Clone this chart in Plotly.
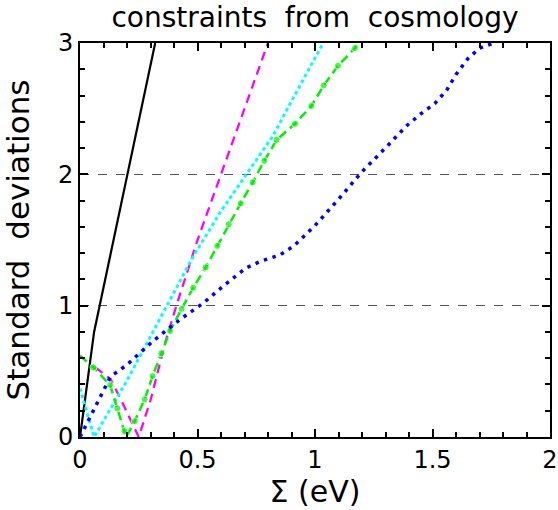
import plotly.graph_objects as go

# ---- data ----
black_x = [0.0, 0.06, 0.32]
black_y = [0.0, 0.80, 3.00]

magenta_x = [0.065, 0.13, 0.17, 0.25, 0.30, 0.366, 0.41, 0.50, 0.60, 0.70, 0.80]
magenta_y = [0.53, 0.44, 0.30, 0.00, 0.28, 0.74, 1.00, 1.50, 2.00, 2.50, 3.00]

cyan_x = [0.0, 0.06, 0.20, 0.37, 0.48, 0.60, 0.71, 0.82, 0.94, 1.035]
cyan_y = [0.37, 0.00, 0.43, 1.00, 1.37, 1.72, 2.00, 2.29, 2.69, 3.00]

green_x = [0.0, 0.057, 0.128, 0.159, 0.189, 0.196, 0.233, 0.275, 0.309, 0.346,
           0.383, 0.432, 0.482, 0.535, 0.584, 0.633, 0.684, 0.735, 0.784, 0.837,
           0.915, 0.984, 1.037, 1.098, 1.170, 1.185]
green_y = [0.62, 0.53, 0.396, 0.218, 0.045, 0.0, 0.121, 0.286, 0.464, 0.637,
           0.807, 0.975, 1.137, 1.292, 1.455, 1.620, 1.780, 1.940, 2.103, 2.263,
           2.385, 2.520, 2.677, 2.827, 2.962, 3.0]
green_marked = [0, 1, 1, 1, 1, 0, 1, 1, 1, 1,
                1, 1, 1, 1, 1, 1, 1, 1, 1, 1,
                1, 1, 1, 1, 1, 0]

blue_x = [0.0, 0.13, 0.20, 0.31, 0.43, 0.525, 0.61, 0.705, 0.77, 0.85, 0.91,
          1.00, 1.10, 1.20, 1.31, 1.39, 1.45, 1.51, 1.56, 1.60, 1.65, 1.70, 1.76]
blue_y = [0.0, 0.46, 0.55, 0.73, 0.90, 1.02, 1.15, 1.285, 1.34, 1.385, 1.455,
          1.61, 1.81, 2.02, 2.22, 2.37, 2.46, 2.54, 2.64, 2.76, 2.88, 2.96, 3.00]

x_range = [0, 2]
y_range = [0, 3]
x_major_step, x_minor_step = 0.5, 0.1   # labels 0, 0.5, 1, 1.5, 2
y_major_step, y_minor_step = 1, 0.2     # labels 0, 1, 2, 3

title_text = "constraints\u00a0 from\u00a0 cosmology"
x_title = "\u03a3 (eV)"
y_title = "Standard\u00a0 deviations"

FONT = "DejaVu Sans"

fig = go.Figure()
fig.add_trace(go.Scatter(x=black_x, y=black_y, mode="lines",
                         line=dict(color="black", width=2.2), showlegend=False))
fig.add_trace(go.Scatter(x=magenta_x, y=magenta_y, mode="lines",
                         line=dict(color="#ff00ff", width=2.3, dash="9px,6px"),
                         showlegend=False))
fig.add_trace(go.Scatter(x=cyan_x, y=cyan_y, mode="lines",
                         line=dict(color="#00ffff", width=3, dash="3.5px,3px"),
                         showlegend=False))
fig.add_trace(go.Scatter(x=green_x, y=green_y, mode="lines+markers",
                         line=dict(color="#00f000", width=2.5, dash="9px,5px"),
                         marker=dict(color="#00f000",
                                     size=[7 if m else 0 for m in green_marked]),
                         showlegend=False))
fig.add_trace(go.Scatter(x=blue_x, y=blue_y, mode="lines",
                         line=dict(color="#0000ff", width=3.5, dash="3.5px,5.5px"),
                         showlegend=False))

main_common = dict(
    showline=True, linecolor="#000000", linewidth=2, mirror="ticks",
    ticks="inside", ticklen=8, tickwidth=1.5, tickcolor="#000000",
    tickfont=dict(family=FONT, size=24, color="black"),
    zeroline=False, automargin=False, tickmode="linear", tick0=0,
)

fig.update_layout(
    xaxis=dict(range=x_range, dtick=x_major_step,
               showgrid=False,
               minor=dict(dtick=x_minor_step, ticks="inside", ticklen=5,
                          tickwidth=1.5, tickcolor="#000000", showgrid=False),
               title=dict(text=x_title, font=dict(family=FONT, size=30, color="black"),
                          standoff=8),
               **main_common),
    yaxis=dict(range=y_range, dtick=y_major_step,
               showgrid=True, gridcolor="#555555", gridwidth=1, griddash="dash",
               minor=dict(dtick=y_minor_step, ticks="inside", ticklen=5,
                          tickwidth=1.5, tickcolor="#000000", showgrid=False),
               title=dict(text=y_title, font=dict(family=FONT, size=31, color="black"),
                          standoff=24),
               **main_common),
)

fig.update_layout(
    template="simple_white",
    width=558, height=510,
    margin=dict(l=80, r=8, t=43, b=73),
    paper_bgcolor="white", plot_bgcolor="white",
    title=dict(text=title_text, x=0.5, xref="paper", y=1 - 17 / 510,
               yref="container", yanchor="middle", xanchor="center",
               font=dict(family=FONT, size=28, color="black")),
)

fig.write_html("out.html")
